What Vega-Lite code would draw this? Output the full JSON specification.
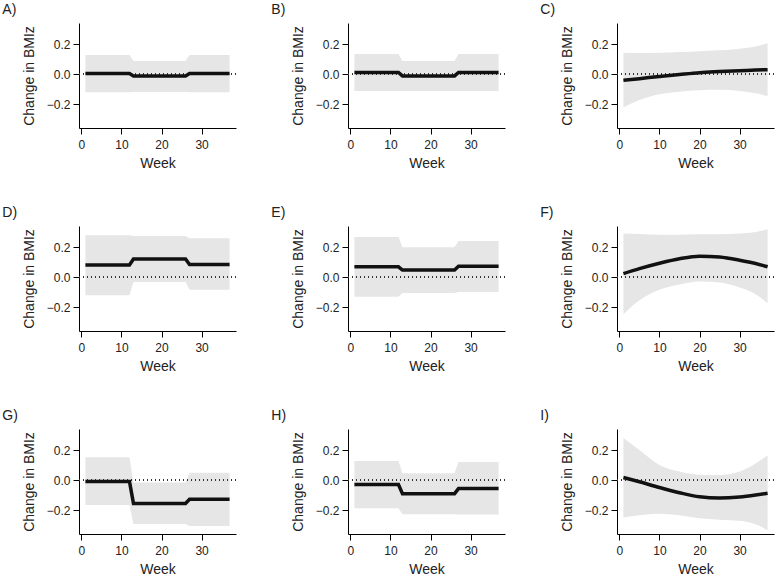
{
  "$schema": "https://vega.github.io/schema/vega-lite/v6.json",
  "padding": {"left": 2, "top": 3, "right": 0, "bottom": 0},
  "config": {
    "font": "Liberation Sans",
    "view": {"stroke": null},
    "axis": {"grid": false, "domainColor": "#000", "tickColor": "#000", "labelColor": "#222", "titleColor": "#222", "labelFontSize": 12, "titleFontSize": 14, "titleFontWeight": "normal", "tickSize": 6, "domainWidth": 1, "tickWidth": 1},
    "title": {"fontSize": 14, "fontWeight": "normal", "anchor": "start", "color": "#222"}
  },
  "data": {"values": [
    {"panel": "A", "week": 1, "est": 0.003, "lo": -0.122, "hi": 0.127},
    {"panel": "A", "week": 12, "est": 0.003, "lo": -0.122, "hi": 0.127},
    {"panel": "A", "week": 13, "est": -0.013, "lo": -0.12, "hi": 0.087},
    {"panel": "A", "week": 26, "est": -0.013, "lo": -0.12, "hi": 0.087},
    {"panel": "A", "week": 27, "est": 0.004, "lo": -0.122, "hi": 0.127},
    {"panel": "A", "week": 37, "est": 0.004, "lo": -0.122, "hi": 0.127},
    {"panel": "B", "week": 1, "est": 0.01, "lo": -0.113, "hi": 0.133},
    {"panel": "B", "week": 12, "est": 0.01, "lo": -0.113, "hi": 0.133},
    {"panel": "B", "week": 13, "est": -0.013, "lo": -0.113, "hi": 0.087},
    {"panel": "B", "week": 26, "est": -0.013, "lo": -0.113, "hi": 0.087},
    {"panel": "B", "week": 27, "est": 0.01, "lo": -0.113, "hi": 0.133},
    {"panel": "B", "week": 37, "est": 0.01, "lo": -0.113, "hi": 0.133},
    {"panel": "C", "week": 1, "est": -0.042, "lo": -0.222, "hi": 0.142},
    {"panel": "C", "week": 5, "est": -0.031, "lo": -0.173, "hi": 0.14},
    {"panel": "C", "week": 10, "est": -0.016, "lo": -0.135, "hi": 0.142},
    {"panel": "C", "week": 15, "est": -0.003, "lo": -0.118, "hi": 0.147},
    {"panel": "C", "week": 20, "est": 0.009, "lo": -0.108, "hi": 0.152},
    {"panel": "C", "week": 25, "est": 0.016, "lo": -0.105, "hi": 0.158},
    {"panel": "C", "week": 30, "est": 0.022, "lo": -0.113, "hi": 0.168},
    {"panel": "C", "week": 34, "est": 0.026, "lo": -0.129, "hi": 0.183},
    {"panel": "C", "week": 37, "est": 0.029, "lo": -0.147, "hi": 0.205},
    {"panel": "D", "week": 1, "est": 0.08, "lo": -0.122, "hi": 0.278},
    {"panel": "D", "week": 12, "est": 0.08, "lo": -0.122, "hi": 0.278},
    {"panel": "D", "week": 13, "est": 0.12, "lo": -0.033, "hi": 0.273},
    {"panel": "D", "week": 26, "est": 0.12, "lo": -0.033, "hi": 0.273},
    {"panel": "D", "week": 27, "est": 0.083, "lo": -0.085, "hi": 0.258},
    {"panel": "D", "week": 37, "est": 0.083, "lo": -0.085, "hi": 0.258},
    {"panel": "E", "week": 1, "est": 0.068, "lo": -0.131, "hi": 0.267},
    {"panel": "E", "week": 12, "est": 0.068, "lo": -0.131, "hi": 0.267},
    {"panel": "E", "week": 13, "est": 0.046, "lo": -0.106, "hi": 0.198},
    {"panel": "E", "week": 26, "est": 0.046, "lo": -0.106, "hi": 0.198},
    {"panel": "E", "week": 27, "est": 0.072, "lo": -0.1, "hi": 0.24},
    {"panel": "E", "week": 37, "est": 0.072, "lo": -0.1, "hi": 0.24},
    {"panel": "F", "week": 1, "est": 0.023, "lo": -0.249, "hi": 0.29},
    {"panel": "F", "week": 5, "est": 0.056, "lo": -0.155, "hi": 0.287},
    {"panel": "F", "week": 10, "est": 0.092, "lo": -0.085, "hi": 0.282},
    {"panel": "F", "week": 15, "est": 0.122, "lo": -0.05, "hi": 0.282},
    {"panel": "F", "week": 20, "est": 0.139, "lo": -0.03, "hi": 0.285},
    {"panel": "F", "week": 25, "est": 0.133, "lo": -0.037, "hi": 0.285},
    {"panel": "F", "week": 30, "est": 0.112, "lo": -0.07, "hi": 0.29},
    {"panel": "F", "week": 34, "est": 0.09, "lo": -0.115, "hi": 0.3},
    {"panel": "F", "week": 37, "est": 0.068, "lo": -0.175, "hi": 0.318},
    {"panel": "G", "week": 1, "est": -0.01, "lo": -0.167, "hi": 0.151},
    {"panel": "G", "week": 12, "est": -0.01, "lo": -0.167, "hi": 0.151},
    {"panel": "G", "week": 13, "est": -0.156, "lo": -0.294, "hi": -0.016},
    {"panel": "G", "week": 26, "est": -0.156, "lo": -0.294, "hi": -0.016},
    {"panel": "G", "week": 27, "est": -0.128, "lo": -0.306, "hi": 0.049},
    {"panel": "G", "week": 37, "est": -0.128, "lo": -0.306, "hi": 0.049},
    {"panel": "H", "week": 1, "est": -0.03, "lo": -0.189, "hi": 0.127},
    {"panel": "H", "week": 12, "est": -0.03, "lo": -0.189, "hi": 0.127},
    {"panel": "H", "week": 13, "est": -0.091, "lo": -0.228, "hi": 0.045},
    {"panel": "H", "week": 26, "est": -0.091, "lo": -0.228, "hi": 0.045},
    {"panel": "H", "week": 27, "est": -0.057, "lo": -0.23, "hi": 0.12},
    {"panel": "H", "week": 37, "est": -0.057, "lo": -0.23, "hi": 0.12},
    {"panel": "I", "week": 1, "est": 0.017, "lo": -0.25, "hi": 0.28},
    {"panel": "I", "week": 5, "est": -0.012, "lo": -0.235, "hi": 0.2},
    {"panel": "I", "week": 10, "est": -0.05, "lo": -0.225, "hi": 0.1},
    {"panel": "I", "week": 15, "est": -0.085, "lo": -0.235, "hi": 0.056},
    {"panel": "I", "week": 20, "est": -0.112, "lo": -0.255, "hi": 0.035},
    {"panel": "I", "week": 25, "est": -0.12, "lo": -0.265, "hi": 0.033},
    {"panel": "I", "week": 30, "est": -0.113, "lo": -0.272, "hi": 0.056},
    {"panel": "I", "week": 34, "est": -0.1, "lo": -0.295, "hi": 0.11},
    {"panel": "I", "week": 37, "est": -0.088, "lo": -0.335, "hi": 0.165}
  ]},
  "columns": 3,
  "spacing": {"row": 36, "column": 34},
  "concat": [
    {"title": {"text": "A)", "dx": -20, "offset": 6}, "width": 157, "height": 105, "transform": [{"filter": "datum.panel === 'A'"}],
     "layer": [
      {"mark": {"type": "area", "color": "#e6e6e6"}, "encoding": {"x": {"field": "week", "type": "quantitative", "scale": {"domain": [-0.6, 38.6], "nice": false}, "axis": {"values": [0, 10, 20, 30], "title": "Week", "labelPadding": 5, "titlePadding": 6}}, "y": {"field": "lo", "type": "quantitative", "scale": {"domain": [-0.36, 0.34], "nice": false, "zero": false}, "axis": {"values": [-0.2, 0, 0.2], "format": ".1f", "title": "Change in BMIz", "labelPadding": 3, "titlePadding": 10}}, "y2": {"field": "hi"}}},
      {"mark": {"type": "rule", "color": "#333", "strokeDash": [1, 3], "strokeWidth": 1}, "encoding": {"y": {"datum": 0}}},
      {"mark": {"type": "line", "color": "#111", "strokeWidth": 3.5, "interpolate": "linear"}, "encoding": {"x": {"field": "week", "type": "quantitative"}, "y": {"field": "est", "type": "quantitative"}}}
     ]},
    {"title": {"text": "B)", "dx": -20, "offset": 6}, "width": 157, "height": 105, "transform": [{"filter": "datum.panel === 'B'"}],
     "layer": [
      {"mark": {"type": "area", "color": "#e6e6e6"}, "encoding": {"x": {"field": "week", "type": "quantitative", "scale": {"domain": [-0.6, 38.6], "nice": false}, "axis": {"values": [0, 10, 20, 30], "title": "Week", "labelPadding": 5, "titlePadding": 6}}, "y": {"field": "lo", "type": "quantitative", "scale": {"domain": [-0.36, 0.34], "nice": false, "zero": false}, "axis": {"values": [-0.2, 0, 0.2], "format": ".1f", "title": "Change in BMIz", "labelPadding": 3, "titlePadding": 10}}, "y2": {"field": "hi"}}},
      {"mark": {"type": "rule", "color": "#333", "strokeDash": [1, 3], "strokeWidth": 1}, "encoding": {"y": {"datum": 0}}},
      {"mark": {"type": "line", "color": "#111", "strokeWidth": 3.5, "interpolate": "linear"}, "encoding": {"x": {"field": "week", "type": "quantitative"}, "y": {"field": "est", "type": "quantitative"}}}
     ]},
    {"title": {"text": "C)", "dx": -20, "offset": 6}, "width": 157, "height": 105, "transform": [{"filter": "datum.panel === 'C'"}],
     "layer": [
      {"mark": {"type": "area", "color": "#e6e6e6", "interpolate": "monotone"}, "encoding": {"x": {"field": "week", "type": "quantitative", "scale": {"domain": [-0.6, 38.6], "nice": false}, "axis": {"values": [0, 10, 20, 30], "title": "Week", "labelPadding": 5, "titlePadding": 6}}, "y": {"field": "lo", "type": "quantitative", "scale": {"domain": [-0.36, 0.34], "nice": false, "zero": false}, "axis": {"values": [-0.2, 0, 0.2], "format": ".1f", "title": "Change in BMIz", "labelPadding": 3, "titlePadding": 10}}, "y2": {"field": "hi"}}},
      {"mark": {"type": "rule", "color": "#333", "strokeDash": [1, 3], "strokeWidth": 1}, "encoding": {"y": {"datum": 0}}},
      {"mark": {"type": "line", "color": "#111", "strokeWidth": 3.5, "interpolate": "monotone"}, "encoding": {"x": {"field": "week", "type": "quantitative"}, "y": {"field": "est", "type": "quantitative"}}}
     ]},
    {"title": {"text": "D)", "dx": -20, "offset": 6}, "width": 157, "height": 105, "transform": [{"filter": "datum.panel === 'D'"}],
     "layer": [
      {"mark": {"type": "area", "color": "#e6e6e6"}, "encoding": {"x": {"field": "week", "type": "quantitative", "scale": {"domain": [-0.6, 38.6], "nice": false}, "axis": {"values": [0, 10, 20, 30], "title": "Week", "labelPadding": 5, "titlePadding": 6}}, "y": {"field": "lo", "type": "quantitative", "scale": {"domain": [-0.36, 0.34], "nice": false, "zero": false}, "axis": {"values": [-0.2, 0, 0.2], "format": ".1f", "title": "Change in BMIz", "labelPadding": 3, "titlePadding": 10}}, "y2": {"field": "hi"}}},
      {"mark": {"type": "rule", "color": "#333", "strokeDash": [1, 3], "strokeWidth": 1}, "encoding": {"y": {"datum": 0}}},
      {"mark": {"type": "line", "color": "#111", "strokeWidth": 3.5, "interpolate": "linear"}, "encoding": {"x": {"field": "week", "type": "quantitative"}, "y": {"field": "est", "type": "quantitative"}}}
     ]},
    {"title": {"text": "E)", "dx": -20, "offset": 6}, "width": 157, "height": 105, "transform": [{"filter": "datum.panel === 'E'"}],
     "layer": [
      {"mark": {"type": "area", "color": "#e6e6e6"}, "encoding": {"x": {"field": "week", "type": "quantitative", "scale": {"domain": [-0.6, 38.6], "nice": false}, "axis": {"values": [0, 10, 20, 30], "title": "Week", "labelPadding": 5, "titlePadding": 6}}, "y": {"field": "lo", "type": "quantitative", "scale": {"domain": [-0.36, 0.34], "nice": false, "zero": false}, "axis": {"values": [-0.2, 0, 0.2], "format": ".1f", "title": "Change in BMIz", "labelPadding": 3, "titlePadding": 10}}, "y2": {"field": "hi"}}},
      {"mark": {"type": "rule", "color": "#333", "strokeDash": [1, 3], "strokeWidth": 1}, "encoding": {"y": {"datum": 0}}},
      {"mark": {"type": "line", "color": "#111", "strokeWidth": 3.5, "interpolate": "linear"}, "encoding": {"x": {"field": "week", "type": "quantitative"}, "y": {"field": "est", "type": "quantitative"}}}
     ]},
    {"title": {"text": "F)", "dx": -20, "offset": 6}, "width": 157, "height": 105, "transform": [{"filter": "datum.panel === 'F'"}],
     "layer": [
      {"mark": {"type": "area", "color": "#e6e6e6", "interpolate": "monotone"}, "encoding": {"x": {"field": "week", "type": "quantitative", "scale": {"domain": [-0.6, 38.6], "nice": false}, "axis": {"values": [0, 10, 20, 30], "title": "Week", "labelPadding": 5, "titlePadding": 6}}, "y": {"field": "lo", "type": "quantitative", "scale": {"domain": [-0.36, 0.34], "nice": false, "zero": false}, "axis": {"values": [-0.2, 0, 0.2], "format": ".1f", "title": "Change in BMIz", "labelPadding": 3, "titlePadding": 10}}, "y2": {"field": "hi"}}},
      {"mark": {"type": "rule", "color": "#333", "strokeDash": [1, 3], "strokeWidth": 1}, "encoding": {"y": {"datum": 0}}},
      {"mark": {"type": "line", "color": "#111", "strokeWidth": 3.5, "interpolate": "monotone"}, "encoding": {"x": {"field": "week", "type": "quantitative"}, "y": {"field": "est", "type": "quantitative"}}}
     ]},
    {"title": {"text": "G)", "dx": -20, "offset": 6}, "width": 157, "height": 105, "transform": [{"filter": "datum.panel === 'G'"}],
     "layer": [
      {"mark": {"type": "area", "color": "#e6e6e6"}, "encoding": {"x": {"field": "week", "type": "quantitative", "scale": {"domain": [-0.6, 38.6], "nice": false}, "axis": {"values": [0, 10, 20, 30], "title": "Week", "labelPadding": 5, "titlePadding": 6}}, "y": {"field": "lo", "type": "quantitative", "scale": {"domain": [-0.36, 0.34], "nice": false, "zero": false}, "axis": {"values": [-0.2, 0, 0.2], "format": ".1f", "title": "Change in BMIz", "labelPadding": 3, "titlePadding": 10}}, "y2": {"field": "hi"}}},
      {"mark": {"type": "rule", "color": "#333", "strokeDash": [1, 3], "strokeWidth": 1}, "encoding": {"y": {"datum": 0}}},
      {"mark": {"type": "line", "color": "#111", "strokeWidth": 3.5, "interpolate": "linear"}, "encoding": {"x": {"field": "week", "type": "quantitative"}, "y": {"field": "est", "type": "quantitative"}}}
     ]},
    {"title": {"text": "H)", "dx": -20, "offset": 6}, "width": 157, "height": 105, "transform": [{"filter": "datum.panel === 'H'"}],
     "layer": [
      {"mark": {"type": "area", "color": "#e6e6e6"}, "encoding": {"x": {"field": "week", "type": "quantitative", "scale": {"domain": [-0.6, 38.6], "nice": false}, "axis": {"values": [0, 10, 20, 30], "title": "Week", "labelPadding": 5, "titlePadding": 6}}, "y": {"field": "lo", "type": "quantitative", "scale": {"domain": [-0.36, 0.34], "nice": false, "zero": false}, "axis": {"values": [-0.2, 0, 0.2], "format": ".1f", "title": "Change in BMIz", "labelPadding": 3, "titlePadding": 10}}, "y2": {"field": "hi"}}},
      {"mark": {"type": "rule", "color": "#333", "strokeDash": [1, 3], "strokeWidth": 1}, "encoding": {"y": {"datum": 0}}},
      {"mark": {"type": "line", "color": "#111", "strokeWidth": 3.5, "interpolate": "linear"}, "encoding": {"x": {"field": "week", "type": "quantitative"}, "y": {"field": "est", "type": "quantitative"}}}
     ]},
    {"title": {"text": "I)", "dx": -20, "offset": 6}, "width": 157, "height": 105, "transform": [{"filter": "datum.panel === 'I'"}],
     "layer": [
      {"mark": {"type": "area", "color": "#e6e6e6", "interpolate": "monotone"}, "encoding": {"x": {"field": "week", "type": "quantitative", "scale": {"domain": [-0.6, 38.6], "nice": false}, "axis": {"values": [0, 10, 20, 30], "title": "Week", "labelPadding": 5, "titlePadding": 6}}, "y": {"field": "lo", "type": "quantitative", "scale": {"domain": [-0.36, 0.34], "nice": false, "zero": false}, "axis": {"values": [-0.2, 0, 0.2], "format": ".1f", "title": "Change in BMIz", "labelPadding": 3, "titlePadding": 10}}, "y2": {"field": "hi"}}},
      {"mark": {"type": "rule", "color": "#333", "strokeDash": [1, 3], "strokeWidth": 1}, "encoding": {"y": {"datum": 0}}},
      {"mark": {"type": "line", "color": "#111", "strokeWidth": 3.5, "interpolate": "monotone"}, "encoding": {"x": {"field": "week", "type": "quantitative"}, "y": {"field": "est", "type": "quantitative"}}}
     ]}
  ]
}
